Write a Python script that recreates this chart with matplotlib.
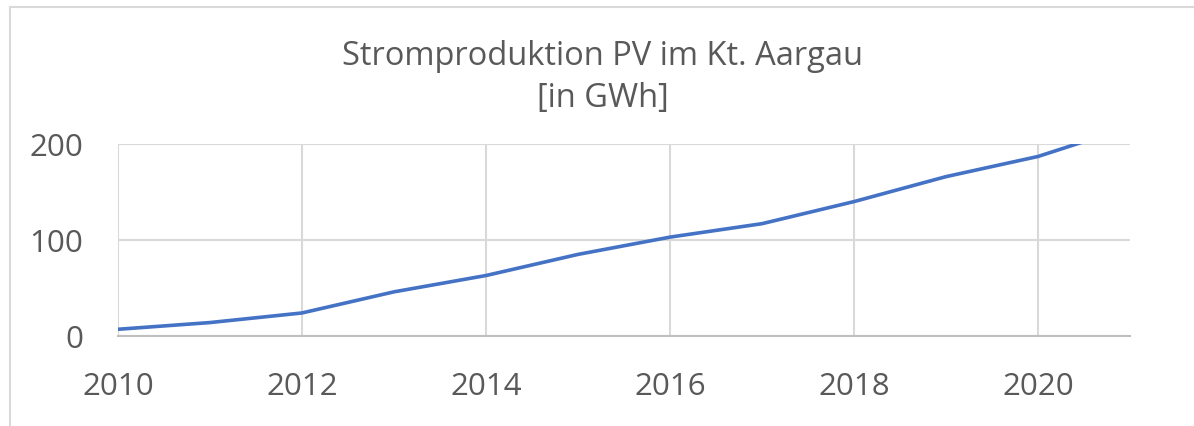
import matplotlib
matplotlib.use("Agg")
import matplotlib.pyplot as plt
from matplotlib.lines import Line2D

years = [2010, 2011, 2012, 2013, 2014, 2015, 2016, 2017, 2018, 2019, 2020, 2021]
gwh = [7, 14, 24, 46, 63, 85, 103, 117, 140, 166, 187, 218]
x_ticks = [2010, 2012, 2014, 2016, 2018, 2020]
y_ticks = [0, 100, 200]
title = "Stromproduktion PV im Kt. Aargau\n[in GWh]"

plt.rcParams['font.family'] = ['Open Sans', 'DejaVu Sans']
text_col = '#595959'
grid_col = '#D9D9D9'

fig = plt.figure(figsize=(11.94, 4.27), dpi=100)
ax = fig.add_axes([118/1194, 1-337/427, (1130-118)/1194, (337-145)/427])

ax.plot(years, gwh, color='#4472C4', lw=2.6, solid_capstyle='butt', zorder=3)
ax.set_xlim(2010, 2021)
ax.set_ylim(0, 200)
ax.set_xticks(x_ticks)
ax.set_yticks(y_ticks)
ax.grid(True, color=grid_col, lw=1.5)
ax.set_axisbelow(True)
for s in ['top', 'right', 'left']:
    ax.spines[s].set_visible(False)
ax.spines['bottom'].set_color('#BFBFBF')
ax.spines['bottom'].set_linewidth(1.5)
ax.tick_params(axis='both', length=0, labelsize=22.5, labelcolor=text_col)
ax.tick_params(axis='x', pad=25)
ax.tick_params(axis='y', pad=25)

fig.text(603/1194, 1-40/427, title, ha='center', va='top', fontsize=23.5,
         color=text_col, linespacing=1.35)

# chart-area border (top and left visible)
fig.add_artist(Line2D([10/1194, 10/1194], [0, 1-8/427], transform=fig.transFigure,
                      color=grid_col, lw=1.5))
fig.add_artist(Line2D([10/1194, 1], [1-8/427, 1-8/427], transform=fig.transFigure,
                      color=grid_col, lw=1.5))

fig.savefig('out.png', dpi=100)
